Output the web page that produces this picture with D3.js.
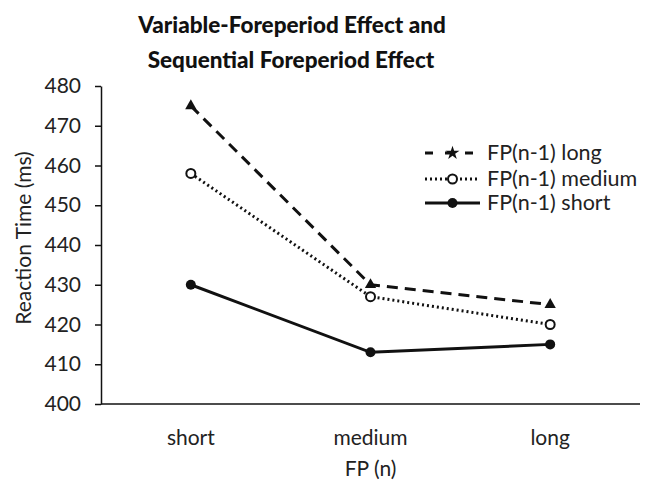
<!DOCTYPE html>
<html><head><meta charset="utf-8">
<script src="https://cdn.jsdelivr.net/npm/d3@7"></script>
<style>body{margin:0;background:#fff;} svg{display:block;}</style>
</head><body>
<svg id="chart" width="645" height="480"></svg>
<script>
const categories = ["short", "medium", "long"];
const yTicks = [400, 410, 420, 430, 440, 450, 460, 470, 480];
const seriesNames = ["FP(n-1) long", "FP(n-1) medium", "FP(n-1) short"];
const longValues = [475, 430, 425];
const mediumValues = [458, 427, 420];
const shortValues = [430, 413, 415];

const series = [
  {name: seriesNames[0], values: longValues, dash: "11,7", marker: "triangle"},
  {name: seriesNames[1], values: mediumValues, dash: "2,3", marker: "open"},
  {name: seriesNames[2], values: shortValues, dash: null, marker: "filled"}
];

const font = "Lato, 'Open Sans', sans-serif";
const fs = 21;
const svg = d3.select("#chart");
const plotLeft = 101, plotRight = 640, plotTop = 86, plotBottom = 404;

const x = d3.scaleBand().domain(categories).range([plotLeft, plotRight]);
const y = d3.scaleLinear().domain([400, 480]).range([plotBottom, plotTop]);

// title
svg.append("text").attr("x", 292).attr("y", 33).attr("text-anchor", "middle")
  .attr("font-family", font).attr("font-weight", 900).attr("font-size", 22.5).attr("fill", "#111")
  .text("Variable-Foreperiod Effect and");
svg.append("text").attr("x", 291).attr("y", 68).attr("text-anchor", "middle")
  .attr("font-family", font).attr("font-weight", 900).attr("font-size", 22.5).attr("fill", "#111")
  .text("Sequential Foreperiod Effect");

// y axis
const yAxis = svg.append("g").attr("transform", `translate(${plotLeft},0)`)
  .call(d3.axisLeft(y).tickValues(yTicks).tickSize(6).tickSizeOuter(0).tickPadding(14));
yAxis.select(".domain").attr("stroke", "#111").attr("stroke-width", 1.5);
yAxis.selectAll(".tick line").attr("stroke", "#111").attr("stroke-width", 1.5);
yAxis.selectAll("text").attr("font-family", font).attr("font-size", fs).attr("fill", "#222");

// x axis
const xAxis = svg.append("g").attr("transform", `translate(0,${plotBottom})`)
  .call(d3.axisBottom(x).tickSize(0).tickSizeOuter(0).tickPadding(26));
xAxis.select(".domain").attr("stroke", "#111").attr("stroke-width", 1.5).attr("d", `M${plotLeft},0H${plotRight}`);
xAxis.selectAll("text").attr("font-family", font).attr("font-size", fs).attr("fill", "#222");

// axis titles
svg.append("text").attr("x", x("medium") + x.bandwidth()/2).attr("y", 476).attr("text-anchor", "middle")
  .attr("font-family", font).attr("font-size", fs).attr("fill", "#222").text("FP (n)");
svg.append("text").attr("transform", `translate(31,238) rotate(-90)`).attr("text-anchor", "middle")
  .attr("font-family", font).attr("font-size", fs).attr("fill", "#222").text("Reaction Time (ms)");

const cx = c => x(c) + x.bandwidth()/2;
const line = d3.line().x((d, i) => cx(categories[i])).y(d => y(d));

function drawMarker(g, type, px, py, legend) {
  if (type === "triangle") {
    if (legend) {
      g.append("path").attr("d", d3.symbol(d3.symbolStar, 60)()).attr("transform", `translate(${px},${py})`).attr("fill", "#111");
    } else {
      g.append("path").attr("d", d3.symbol(d3.symbolTriangle, 55)()).attr("transform", `translate(${px},${py})`).attr("fill", "#111");
    }
  } else if (type === "open") {
    g.append("circle").attr("cx", px).attr("cy", py).attr("r", 4.5).attr("fill", "#fff").attr("stroke", "#111").attr("stroke-width", 2);
  } else {
    g.append("circle").attr("cx", px).attr("cy", py).attr("r", 5).attr("fill", "#111");
  }
}

series.forEach(s => {
  const g = svg.append("g");
  g.append("path").datum(s.values).attr("d", line).attr("fill", "none")
    .attr("stroke", "#111").attr("stroke-width", 3)
    .attr("stroke-dasharray", s.dash);
  s.values.forEach((v, i) => drawMarker(g, s.marker, cx(categories[i]), y(v), false));
});

// legend
const legendRows = [153, 179, 203];
series.forEach((s, i) => {
  const g = svg.append("g");
  const ly = legendRows[i];
  g.append("line").attr("x1", 425).attr("x2", 480).attr("y1", ly).attr("y2", ly)
    .attr("stroke", "#111").attr("stroke-width", 3).attr("stroke-dasharray", s.dash === "11,7" ? "8,12" : s.dash);
  drawMarker(g, s.marker, 452.5, ly, true);
  g.append("text").attr("x", 487).attr("y", ly + 7).attr("font-family", font).attr("font-size", 21.5).attr("fill", "#222").text(s.name);
});
</script>
</body></html>
